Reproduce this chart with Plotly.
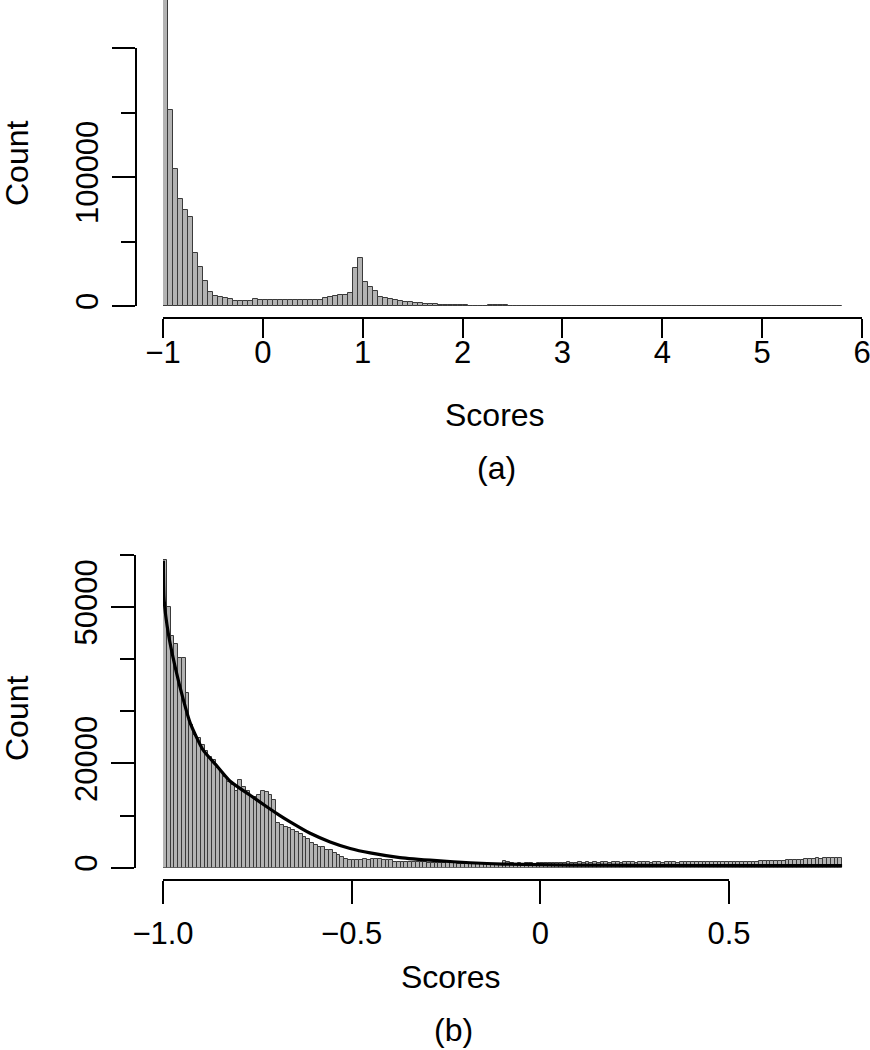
import numpy as np
import plotly.graph_objects as go

# ---------------- data ----------------
# Panel (a): histogram of scores, bins of width 0.05 starting at -1
a_bin_start = -1.0
a_bin_width = 0.05
a_counts = [
    238000, 152000, 106000, 82700, 74400, 69200, 41300, 30000, 19400, 11100,
    7750, 7200, 6000, 5400, 4100, 4100, 4100, 4200, 5200, 5000,
    4700, 4600, 4500, 4600, 4700, 4600, 4700, 4600, 4700, 4800,
    4700, 4900, 5900, 7200, 8000, 8500, 8500, 10300, 29200, 37000,
    18800, 15000, 11600, 7200, 6400, 5400, 4650, 3900, 3300, 2800,
    2300, 2000, 1800, 1550, 1300, 1000, 800, 650, 550, 450,
    400, 350, 300, 300, 350, 500, 700, 650, 400, 250,
    200, 180, 160, 150, 140, 130, 120, 110, 100, 90,
    85, 80, 75, 70, 65, 60, 55, 50, 48, 46,
    44, 42, 40, 38, 36, 34, 32, 30, 29, 28,
    27, 26, 25, 24, 23, 22, 21, 20, 20, 19,
    19, 18, 18, 17, 17, 16, 16, 15, 15, 14,
    14, 13, 13, 12, 12, 11, 11, 10, 10, 10,
    9, 9, 9, 8, 8, 8,
]

# Panel (b): zoom on [-1, 0.8], bins of width 0.01
b_bin_start = -1.0
b_bin_width = 0.01
b_counts = [
    59000, 50000, 44500, 43000, 40300, 40300, 33500, 27400, 25500, 24800,
    23500, 22300, 21300, 20600, 19100, 18300, 17500, 16400, 15900, 14800,
    16900, 15400, 14800, 13600, 13600, 13900, 14800, 14500, 14000, 12900,
    8500, 8200, 7750, 7550, 7200, 6900, 6450, 5950, 5450, 4700,
    4350, 3900, 3900, 3400, 3400, 2750, 2450, 2100, 1600, 1500,
    1500, 1500, 1500, 1700, 1500, 1700, 1600, 1600, 1550, 1550,
    1500, 1150, 1100, 1050, 1100, 1000, 1050, 1100, 1000, 1050,
    900, 850, 900, 850, 900, 1100, 1050, 1000, 800, 750,
    750, 800, 700, 750, 750, 700, 750, 700, 750, 700,
    1200, 1150, 850, 800, 850, 800, 850, 900, 800, 850,
    900, 850, 900, 950, 900, 950, 900, 1000, 950, 900,
    1000, 950, 1050, 950, 1000, 950, 1050, 1000, 950, 1000,
    1000, 950, 1050, 1000, 1000, 950, 1000, 1050, 1000, 950,
    1000, 1000, 950, 1000, 1050, 1000, 950, 1000, 1050, 1050,
    1100, 1050, 1100, 1000, 1050, 1100, 1050, 1100, 1000, 1050,
    1100, 1050, 1100, 1050, 1000, 1100, 1150, 1100, 1200, 1250,
    1200, 1300, 1350, 1300, 1350, 1400, 1400, 1450, 1400, 1550,
    1650, 1750, 1700, 1800, 1750, 1800, 1800, 1850, 1800, 1800,
]

# fitted curve in panel (b)
fit_x = [-0.999, -0.997, -0.986, -0.968, -0.946, -0.928, -0.894, -0.858,
         -0.822, -0.769, -0.725, -0.690, -0.663, -0.610, -0.557, -0.504,
         -0.451, -0.372, -0.274, -0.186, -0.099, 0.079, 0.423, 0.802]
fit_y = [58900, 51400, 45000, 38600, 32200, 27800, 22600, 19600,
         16600, 13900, 11700, 10000, 8800, 6600, 4950, 3700,
         2850, 1950, 1350, 950, 700, 500, 420, 380]

a_xticks = [-1, 0, 1, 2, 3, 4, 5, 6]
a_xticktext = ["\u22121", "0", "1", "2", "3", "4", "5", "6"]
a_yticks = [0, 100000, 200000]
a_yticktext = ["0", "100000", ""]
a_yminor = [50000, 150000]

b_xticks = [-1.0, -0.5, 0, 0.5]
b_xticktext = ["\u22121.0", "\u22120.5", "0", "0.5"]
b_yticks = [0, 20000, 50000]
b_yticktext = ["0", "20000", "50000"]
b_yminor = [10000, 30000, 40000, 60000]

# ---------------- figure ----------------
W, H = 870, 1050
FONT = "Liberation Sans, Arial, Helvetica, sans-serif"
TICK = 31
TITLE = 32
BAR_FILL = "#b3b3b3"
BAR_LINE = "#3a3a3a"


def px(x):
    return x / W


def py(y):
    return 1 - y / H


a_centers = a_bin_start + a_bin_width * (np.arange(len(a_counts)) + 0.5)
b_centers = b_bin_start + b_bin_width * (np.arange(len(b_counts)) + 0.5)

fig = go.Figure()
fig.add_trace(go.Bar(x=a_centers, y=a_counts, width=a_bin_width,
                     marker=dict(color=BAR_FILL, line=dict(color=BAR_LINE, width=1)),
                     xaxis="x", yaxis="y", showlegend=False, hoverinfo="skip"))
# carrier for the decorative y axis of panel (a)
fig.add_trace(go.Scatter(x=[], y=[], xaxis="x", yaxis="y3", showlegend=False))

fig.add_trace(go.Bar(x=b_centers, y=b_counts, width=b_bin_width,
                     marker=dict(color=BAR_FILL, line=dict(color=BAR_LINE, width=1)),
                     xaxis="x2", yaxis="y2", showlegend=False, hoverinfo="skip"))
fig.add_trace(go.Scatter(x=fit_x, y=fit_y, mode="lines",
                         line=dict(color="black", width=3.2, shape="spline", smoothing=0.6),
                         xaxis="x2", yaxis="y2", showlegend=False, hoverinfo="skip"))
# carrier for the decorative x axis of panel (b)
fig.add_trace(go.Scatter(x=[], y=[], xaxis="x3", yaxis="y2", showlegend=False))

axis_common = dict(showgrid=False, zeroline=False, showline=True, linecolor="black",
                   linewidth=2, ticks="outside", tickwidth=2, tickcolor="black",
                   tickfont=dict(size=TICK, color="black", family=FONT),
                   fixedrange=True, automargin=False, ticklabeloverflow="allow")

fig.update_layout(
    width=W, height=H,
    margin=dict(l=0, r=0, t=0, b=0, pad=0, autoexpand=False),
    paper_bgcolor="white", plot_bgcolor="rgba(0,0,0,0)",
    bargap=0,
    font=dict(family=FONT, size=TICK, color="black"),
    xaxis=dict(domain=[px(163), px(862)], range=[-1, 6], anchor="free",
               position=py(318), tickmode="array", tickvals=a_xticks,
               ticktext=a_xticktext, ticklen=19, ticklabelstandoff=-12,
               **axis_common),
    yaxis=dict(domain=[py(306), 1], range=[0, 237200], visible=False,
               fixedrange=True),
    yaxis3=dict(domain=[py(306), py(48)], range=[0, 200000], anchor="free",
                position=px(136), tickmode="array", tickvals=a_yticks,
                ticktext=a_yticktext, ticklen=23, tickangle=-90,
                ticklabelstandoff=2,
                minor=dict(tickmode="array", tickvals=a_yminor, ticks="outside",
                           ticklen=14, tickwidth=2, tickcolor="black"),
                **axis_common),
    xaxis2=dict(domain=[px(163), px(842.1)], range=[-1, 0.8], visible=False,
                anchor="y2", fixedrange=True),
    yaxis2=dict(domain=[py(867.7), py(555)], range=[0, 60000], anchor="free",
                position=px(135), tickmode="array", tickvals=b_yticks,
                ticktext=b_yticktext, ticklen=23, tickangle=-90,
                ticklabelstandoff=2,
                minor=dict(tickmode="array", tickvals=b_yminor, ticks="outside",
                           ticklen=14, tickwidth=2, tickcolor="black"),
                **axis_common),
    xaxis3=dict(domain=[px(163), px(729)], range=[-1, 0.5], anchor="free",
                position=py(880), tickmode="array", tickvals=b_xticks,
                ticktext=b_xticktext, ticklen=23, ticklabelstandoff=3,
                **axis_common),
)

ann_font = dict(family=FONT, size=TITLE, color="black")
annotations = [
    dict(text="Scores", x=px(495), y=py(415)),
    dict(text="(a)", x=px(497), y=py(468)),
    dict(text="Count", x=px(17), y=py(163), textangle=-90),
    dict(text="Scores", x=px(451), y=py(977)),
    dict(text="(b)", x=px(453), y=py(1030)),
    dict(text="Count", x=px(17), y=py(718), textangle=-90),
]
for a in annotations:
    fig.add_annotation(xref="paper", yref="paper", showarrow=False,
                       xanchor="center", yanchor="middle", font=ann_font, **a)

fig.write_html("out.html", config={"displayModeBar": False},
               post_script="document.body.style.margin='0';"
                           "document.documentElement.style.overflow='hidden';")
